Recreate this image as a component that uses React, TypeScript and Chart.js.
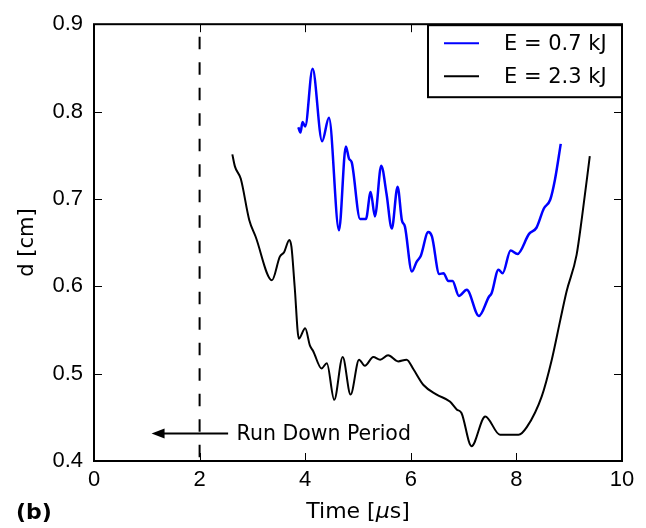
import React, { useEffect, useRef } from "react";
import { Chart, registerables } from "chart.js";

Chart.register(...registerables);

// ---- data ----
const blueTime = [3.87, 3.91, 3.95, 4.0, 4.14, 4.32, 4.45, 4.64, 4.77, 4.83, 4.88, 5.04, 5.15, 5.24, 5.32, 5.44, 5.54, 5.64, 5.75, 5.83, 5.89, 6.02, 6.11, 6.19, 6.33, 6.4, 6.54, 6.62, 6.71, 6.79, 6.91, 7.06, 7.29, 7.48, 7.53, 7.66, 7.74, 7.89, 8.02, 8.24, 8.38, 8.52, 8.64, 8.73, 8.84];
const blueD = [0.782, 0.776, 0.788, 0.783, 0.849, 0.766, 0.793, 0.664, 0.76, 0.746, 0.742, 0.677, 0.677, 0.708, 0.68, 0.738, 0.706, 0.666, 0.714, 0.676, 0.668, 0.617, 0.628, 0.635, 0.662, 0.657, 0.614, 0.615, 0.606, 0.606, 0.589, 0.596, 0.566, 0.588, 0.592, 0.619, 0.615, 0.641, 0.637, 0.66, 0.667, 0.689, 0.699, 0.722, 0.763];

const blackTime = [2.62, 2.67, 2.78, 2.94, 3.06, 3.37, 3.52, 3.6, 3.7, 3.74, 3.8, 3.88, 4.0, 4.09, 4.15, 4.31, 4.41, 4.55, 4.71, 4.86, 5.02, 5.13, 5.29, 5.42, 5.57, 5.76, 5.92, 6.05, 6.24, 6.49, 6.74, 6.87, 6.96, 7.15, 7.41, 7.69, 8.04, 8.2, 8.48, 8.67, 8.83, 8.95, 9.14, 9.24, 9.39];
const blackD = [0.751, 0.737, 0.723, 0.676, 0.657, 0.607, 0.634, 0.639, 0.653, 0.645, 0.6, 0.54, 0.552, 0.532, 0.526, 0.506, 0.512, 0.47, 0.519, 0.476, 0.516, 0.509, 0.519, 0.516, 0.521, 0.514, 0.516, 0.505, 0.487, 0.476, 0.468, 0.459, 0.455, 0.417, 0.451, 0.43, 0.43, 0.439, 0.474, 0.516, 0.561, 0.594, 0.636, 0.678, 0.749];

const seriesLabels = ["E = 0.7 kJ", "E = 2.3 kJ"];
const seriesColors = ["#0000ff", "#000000"];
const xTickValues = [0, 2, 4, 6, 8, 10];
const yTickValues = [0.4, 0.5, 0.6, 0.7, 0.8, 0.9];
const xTitleParts = ["Time [", "\u03bc", "s]"];
const yTitle = "d [cm]";
const panelLabel = "(b)";
const runDownTime = 2;
const arrowStart = 2.54;
const arrowEnd = 1.09;
const arrowLevel = 0.4316;
const annotationText = "Run Down Period";
const annotationX = 2.7;

const TICK_FONT = "'Liberation Sans', Arial, sans-serif";
const TEXT_FONT = "'DejaVu Sans', sans-serif";

const decorations = {
  id: "decorations",
  afterDatasetsDraw(chart: any) {
    const { ctx, chartArea: a, scales } = chart;
    const xs = scales.x;
    const ys = scales.y;
    ctx.save();

    // dashed vertical line
    const dx = xs.getPixelForValue(runDownTime);
    ctx.strokeStyle = "#000";
    ctx.lineWidth = 2;
    ctx.setLineDash([12.5, 13]);
    ctx.lineDashOffset = -12.5;
    ctx.beginPath();
    ctx.moveTo(dx, a.top);
    ctx.lineTo(dx, a.bottom);
    ctx.stroke();
    ctx.setLineDash([]);

    // arrow
    const ay = ys.getPixelForValue(arrowLevel);
    const ax0 = xs.getPixelForValue(arrowStart);
    const ax1 = xs.getPixelForValue(arrowEnd);
    ctx.lineWidth = 2;
    ctx.beginPath();
    ctx.moveTo(ax0, ay);
    ctx.lineTo(ax1 + 10, ay);
    ctx.stroke();
    ctx.fillStyle = "#000";
    ctx.beginPath();
    ctx.moveTo(ax1, ay);
    ctx.lineTo(ax1 + 13, ay - 5);
    ctx.lineTo(ax1 + 13, ay + 5);
    ctx.closePath();
    ctx.fill();

    // annotation text
    ctx.font = `20.5px ${TEXT_FONT}`;
    ctx.textAlign = "left";
    ctx.textBaseline = "middle";
    ctx.fillText(annotationText, xs.getPixelForValue(annotationX), ay + 1);

    // ticks, inward on all sides
    ctx.lineWidth = 1;
    const tl = 8;
    ctx.beginPath();
    xTickValues.forEach((v) => {
      const px = Math.round(xs.getPixelForValue(v)) + 0.5;
      ctx.moveTo(px, a.bottom);
      ctx.lineTo(px, a.bottom - tl);
      ctx.moveTo(px, a.top);
      ctx.lineTo(px, a.top + tl);
    });
    yTickValues.forEach((v) => {
      const py = Math.round(ys.getPixelForValue(v)) + 0.5;
      ctx.moveTo(a.left, py);
      ctx.lineTo(a.left + tl, py);
      ctx.moveTo(a.right, py);
      ctx.lineTo(a.right - tl, py);
    });
    ctx.stroke();

    // frame
    ctx.lineWidth = 2;
    ctx.strokeRect(a.left, a.top, a.right - a.left, a.bottom - a.top);

    // legend
    const lw = 194, lh = 72;
    const lx = a.right - lw, ly = a.top + 1;
    ctx.fillStyle = "#fff";
    ctx.fillRect(lx, ly, lw, lh);
    ctx.strokeStyle = "#000";
    ctx.lineWidth = 2;
    ctx.strokeRect(lx, ly, lw, lh);
    seriesLabels.forEach((lab, i) => {
      const yy = ly + 18 + i * 33;
      ctx.strokeStyle = seriesColors[i];
      ctx.lineWidth = 2;
      ctx.beginPath();
      ctx.moveTo(lx + 16, yy);
      ctx.lineTo(lx + 51, yy);
      ctx.stroke();
      ctx.fillStyle = "#000";
      ctx.font = `21px ${TEXT_FONT}`;
      ctx.textAlign = "left";
      ctx.textBaseline = "middle";
      ctx.fillText(lab, lx + 76, yy + 1);
    });

    // x title with italic mu
    ctx.fillStyle = "#000";
    ctx.textBaseline = "middle";
    ctx.textAlign = "left";
    const fontUp = `22px ${TEXT_FONT}`;
    const fontIt = `italic 22px ${TEXT_FONT}`;
    ctx.font = fontUp;
    const w0 = ctx.measureText(xTitleParts[0]).width;
    const w2 = ctx.measureText(xTitleParts[2]).width;
    ctx.font = fontIt;
    const w1 = ctx.measureText(xTitleParts[1]).width;
    const total = w0 + w1 + w2;
    let tx = (a.left + a.right) / 2 - total / 2;
    const ty = 512;
    ctx.font = fontUp;
    ctx.fillText(xTitleParts[0], tx, ty);
    tx += w0;
    ctx.font = fontIt;
    ctx.fillText(xTitleParts[1], tx, ty);
    tx += w1;
    ctx.font = fontUp;
    ctx.fillText(xTitleParts[2], tx, ty);

    // panel label
    ctx.font = `bold 22px ${TEXT_FONT}`;
    ctx.fillText(panelLabel, 16, 513);

    ctx.restore();
  },
};

export default function App() {
  const ref = useRef<HTMLCanvasElement | null>(null);
  useEffect(() => {
    if (!ref.current) return;
    const chart = new Chart(ref.current, {
      type: "line",
      data: {
        datasets: [
          {
            label: seriesLabels[0],
            data: blueTime.map((t, i) => ({ x: t, y: blueD[i] })),
            borderColor: seriesColors[0],
            borderWidth: 2.5,
            pointRadius: 0,
            cubicInterpolationMode: "monotone",
            fill: false,
          },
          {
            label: seriesLabels[1],
            data: blackTime.map((t, i) => ({ x: t, y: blackD[i] })),
            borderColor: seriesColors[1],
            borderWidth: 2,
            pointRadius: 0,
            cubicInterpolationMode: "monotone",
            fill: false,
          },
        ],
      },
      options: {
        animation: false,
        responsive: true,
        maintainAspectRatio: false,
        layout: { padding: { top: 24, right: 24, left: 0, bottom: 0 } },
        plugins: { legend: { display: false }, tooltip: { enabled: false } },
        scales: {
          x: {
            type: "linear",
            min: 0,
            max: 10,
            afterBuildTicks: (s: any) => {
              s.ticks = xTickValues.map((v) => ({ value: v }));
            },
            afterFit: (s: any) => {
              s.height = 67;
            },
            grid: { display: false, drawTicks: false },
            border: { display: false },
            ticks: {
              padding: 6,
              color: "#000",
              font: { family: TICK_FONT, size: 22 },
              maxRotation: 0,
              callback: (v: any) => String(v),
            },
          },
          y: {
            type: "linear",
            min: 0.4,
            max: 0.9,
            afterBuildTicks: (s: any) => {
              s.ticks = yTickValues.map((v) => ({ value: v }));
            },
            afterFit: (s: any) => {
              s.width = 94;
            },
            grid: { display: false, drawTicks: false },
            border: { display: false },
            title: {
              display: true,
              text: yTitle,
              color: "#000",
              font: { family: TEXT_FONT, size: 21 },
              padding: { top: 15, bottom: 0 },
            },
            ticks: {
              padding: 11,
              color: "#000",
              font: { family: TICK_FONT, size: 22 },
              callback: (v: any) => Number(v).toFixed(1),
            },
          },
        },
      },
      plugins: [decorations],
    } as any);
    return () => chart.destroy();
  }, []);
  return (
    <div style={{ position: "fixed", left: 0, top: 0, width: 646, height: 528, background: "#fff" }}>
      <canvas ref={ref} />
    </div>
  );
}
